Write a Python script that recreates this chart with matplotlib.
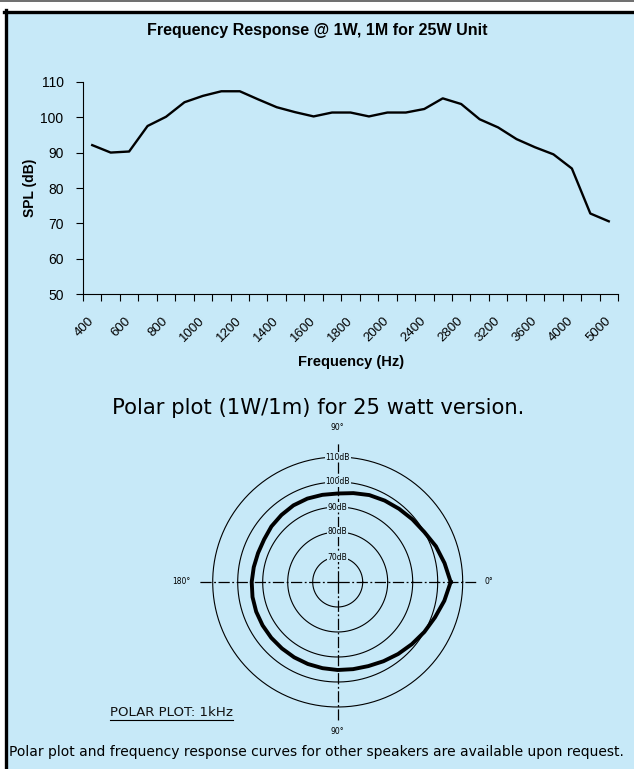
import numpy as np
import matplotlib
matplotlib.use('Agg')
import matplotlib.pyplot as plt
from matplotlib.lines import Line2D
from matplotlib.patches import Rectangle

# Réponse en fréquence (SPL à 1W / 1m)
freqs = ['400', '500', '600', '700', '800', '900', '1000', '1100', '1200', '1300',
         '1400', '1500', '1600', '1700', '1800', '1900', '2000', '2200', '2400', '2600',
         '2800', '3000', '3200', '3400', '3600', '3800', '4000', '4500', '5000']
spl = [92.1, 90.0, 90.3, 97.5, 100.1, 104.2, 106.0, 107.3, 107.3, 105.0,
       102.8, 101.4, 100.2, 101.3, 101.3, 100.2, 101.3, 101.3, 102.3, 105.3,
       103.7, 99.4, 97.1, 93.8, 91.5, 89.5, 85.5, 72.8, 70.6]
spl_ticks = [50, 60, 70, 80, 90, 100, 110]

# Diagramme polaire à 1 kHz (angle en degrés, niveau en dB)
polar_deg = [0, 10, 20, 30, 40, 50, 60, 70, 80, 90, 100, 110, 120, 130, 140, 150, 160, 170,
             180, 190, 200, 210, 220, 230, 240, 250, 260, 270, 280, 290, 300, 310, 320, 330,
             340, 350, 360]
polar_db = [105.2, 103.4, 101.8, 100.0, 99.0, 98.2, 97.6, 97.0, 96.1, 95.4, 95.4, 95.5, 95.4,
            95.0, 94.6, 94.0, 93.9, 94.1, 94.4, 94.6, 94.7, 94.7, 94.7, 94.7, 94.8, 94.9, 95.0,
            95.2, 95.4, 95.8, 96.6, 97.6, 98.7, 100.0, 101.4, 103.3, 105.2]
ring_levels = [70, 80, 90, 100, 110]
axis_angles = [0, 90, 180, 270]

BLUE = '#c7e9f8'
W, H = 634, 769

fig = plt.figure(figsize=(W / 100, H / 100), dpi=100)
fig.patch.set_facecolor('white')


def fit_text(txt, width_px):
    # ajuste la taille de police pour obtenir la largeur voulue
    fig.canvas.draw()
    w = txt.get_window_extent().width
    txt.set_fontsize(txt.get_fontsize() * width_px / w)


# cadre bleu avec bord noir en haut et à gauche
fig.add_artist(Rectangle((7 / W, 0), 1 - 7 / W, 1 - 12 / H, transform=fig.transFigure,
                         facecolor=BLUE, edgecolor='none', zorder=0))
fig.add_artist(Line2D([4 / W, 1], [1 - 11.5 / H, 1 - 11.5 / H], transform=fig.transFigure,
                      color='black', lw=2.4))
fig.add_artist(Line2D([5.5 / W, 5.5 / W], [0, 1 - 10 / H], transform=fig.transFigure,
                      color='black', lw=2.4))
fig.add_artist(Line2D([0, 1], [1 - 0.7 / H, 1 - 0.7 / H], transform=fig.transFigure,
                      color='#555555', lw=1.2))

# ---- courbe de réponse ----
ax = fig.add_axes([83 / W, 1 - 294.3 / H, 535 / W, 212.6 / H])
ax.set_facecolor('none')
x = np.arange(len(freqs))
ax.plot(x, spl, color='black', lw=1.7)
ax.set_xlim(-0.5, len(freqs) - 0.5)
ax.set_ylim(50, 110)
ax.set_yticks(spl_ticks)
ax.set_xticks(x[::2])
ax.set_xticklabels(freqs[::2], rotation=45, ha='right', va='center', rotation_mode='anchor',
                   fontsize=9.5, family='Liberation Sans')
ax.set_xticks(np.arange(-0.5, len(freqs), 1), minor=True)
ax.tick_params(axis='x', which='major', length=0, pad=18)
ax.tick_params(axis='x', which='minor', length=5, width=0.8, direction='out')
ax.tick_params(axis='y', length=5, width=0.8, direction='out', labelsize=10, pad=9)
for lab in ax.get_yticklabels():
    lab.set_family('Liberation Sans')
for s in ['top', 'right']:
    ax.spines[s].set_visible(False)
for s in ['left', 'bottom']:
    ax.spines[s].set_linewidth(0.8)
ax.set_ylabel('SPL (dB)', fontsize=10, fontweight='bold', family='Liberation Sans', va='center')
ax.yaxis.set_label_coords((30 - 83) / 535, 0.5)
ax.set_xlabel('Frequency (Hz)', fontsize=10.5, fontweight='bold', family='Liberation Sans',
              va='center')
ax.xaxis.set_label_coords((351 - 83) / 535, (294.3 - 362) / 212.6)
fig.text(317 / W, 1 - 30 / H, 'Frequency Response @ 1W, 1M for 25W Unit', ha='center',
         va='center', fontsize=11.5, fontweight='bold', family='Liberation Sans')

# ---- diagramme polaire ----
ptitle = fig.text(318.5 / W, 1 - 408 / H, 'Polar plot (1W/1m) for 25 watt version.',
                  ha='center', va='center', fontsize=13.5, family='DejaVu Sans')
fit_text(ptitle, 413)

rmax = 115.5
R = 138.75
axp = fig.add_axes([(337.7 - R) / W, 1 - (582 + R) / H, 2 * R / W, 2 * R / H], projection='polar')
axp.set_facecolor('none')
axp.set_ylim(60, rmax)
axp.grid(False)
axp.set_xticks([])
axp.set_yticks([])
axp.spines['polar'].set_visible(False)

theta = np.linspace(0, 2 * np.pi, 400)
for lvl in ring_levels:
    axp.plot(theta, np.full_like(theta, lvl), color='black', lw=0.8)
for ang in axis_angles:
    axp.plot([np.deg2rad(ang)] * 2, [60, rmax], color='black', lw=0.9,
             linestyle=(0, (9, 2, 1.5, 2)))
for lvl in ring_levels:
    axp.text(np.pi / 2, lvl, f'{lvl}dB', ha='center', va='center', fontsize=5.5,
             bbox=dict(fc=BLUE, ec='none', pad=0.6), zorder=5)
axp.plot(np.deg2rad(polar_deg), polar_db, color='black', lw=2.8, zorder=4,
         solid_joinstyle='round')

axp.text(np.pi / 2, 122, '90°', ha='center', va='center', fontsize=5.5)
axp.text(3 * np.pi / 2, 119.6, '90°', ha='center', va='center', fontsize=5.5)
axp.text(np.pi, 122.4, '180°', ha='center', va='center', fontsize=5.5)
axp.text(0, 120.4, '0°', ha='center', va='center', fontsize=5.5)

t = fig.text(110 / W, 1 - 713 / H, 'POLAR PLOT: 1kHz', ha='left', va='center', fontsize=9.5,
             family='DejaVu Sans', color='#111111')
fit_text(t, 124)
fig.canvas.draw()
bb = t.get_window_extent().transformed(fig.transFigure.inverted())
fig.add_artist(Line2D([bb.x0, bb.x1], [bb.y0 - 0.5 / H, bb.y0 - 0.5 / H], transform=fig.transFigure,
                      color='black', lw=0.8))

cap = fig.text(316 / W, 1 - 752 / H,
               'Polar plot and frequency response curves for other speakers are available upon request.',
               ha='center', va='center', fontsize=10, family='DejaVu Sans')
fit_text(cap, 612)

fig.savefig('out.png', dpi=100)
